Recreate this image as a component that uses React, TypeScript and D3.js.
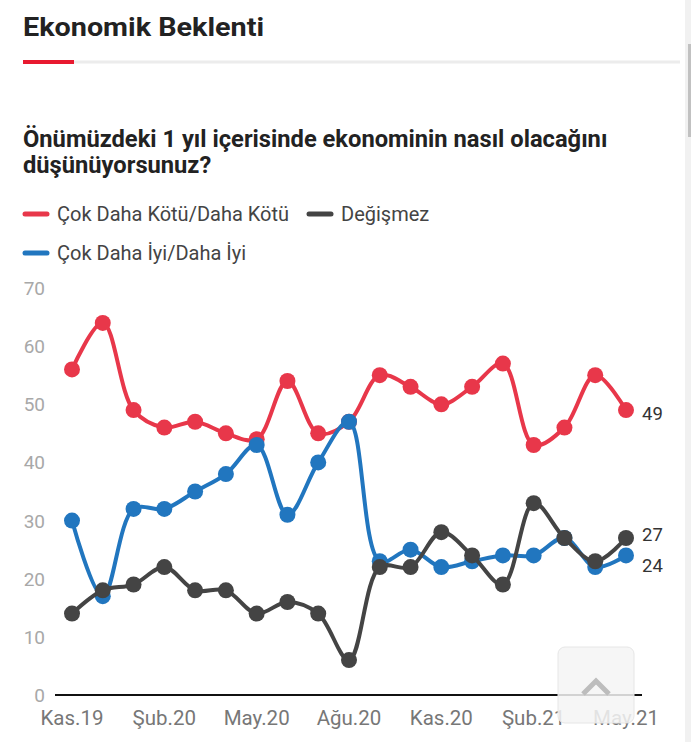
import React from 'react';
import * as d3 from 'd3';

// months, Kas.19 .. May.21
const months: string[] = [
  'Kas.19', 'Ara.19', 'Oca.20', 'Şub.20', 'Mar.20', 'Nis.20', 'May.20', 'Haz.20', 'Tem.20', 'Ağu.20',
  'Eyl.20', 'Eki.20', 'Kas.20', 'Ara.20', 'Oca.21', 'Şub.21', 'Mar.21', 'Nis.21', 'May.21',
];
const tickMonths: string[] = ['Kas.19', 'Şub.20', 'May.20', 'Ağu.20', 'Kas.20', 'Şub.21', 'May.21'];
const yTicks: number[] = [0, 10, 20, 30, 40, 50, 60, 70];

const kotu: number[] = [56, 64, 49, 46, 47, 45, 44, 54, 45, 47, 55, 53, 50, 53, 57, 43, 46, 55, 49];
const iyi: number[] = [30, 17, 32, 32, 35, 38, 43, 31, 40, 47, 23, 25, 22, 23, 24, 24, 27, 22, 24];
const degismez: number[] = [14, 18, 19, 22, 18, 18, 14, 16, 14, 6, 22, 22, 28, 24, 19, 33, 27, 23, 27];

const RED = '#e8374a';
const BLUE = '#2176bf';
const GRAY = '#444444';
const FONT = 'Roboto, "Noto Sans", sans-serif';

interface ISeries {
  name: string;
  color: string;
  values: number[];
  labelDy: number;
}

// draw order: red, blue, gray on top
const series: ISeries[] = [
  {name: 'Çok Daha Kötü/Daha Kötü', color: RED, values: kotu, labelDy: 10},
  {name: 'Çok Daha İyi/Daha İyi', color: BLUE, values: iyi, labelDy: 17},
  {name: 'Değişmez', color: GRAY, values: degismez, labelDy: 3},
];

const App = () => {
  const width = 691;
  const height = 742;

  const x = d3.scalePoint<string>().domain(months).range([72, 626]);
  const y = d3.scaleLinear().domain([0, 70]).range([695, 288]);

  const line = d3.line<number>()
    .x((d, i) => x(months[i]) as number)
    .y(d => y(d))
    .curve(d3.curveCatmullRom.alpha(0.5));

  return (
    <div style={{position: 'absolute', left: 0, top: 0}}>
      <svg width={width} height={height} style={{display: 'block', fontFamily: FONT}}>
        <rect width={width} height={height} fill="#fff"/>

        {/* header */}
        <text x={23} y={36} fontSize={26} fontWeight={700} fill="#222"
              textLength={241} lengthAdjust="spacingAndGlyphs">Ekonomik Beklenti</text>
        <line x1={74} x2={680} y1={62} y2={62} stroke="#ececec" strokeWidth={3}/>
        <line x1={23} x2={74} y1={62} y2={62} stroke="#e8192f" strokeWidth={4}/>

        {/* subtitle */}
        <text x={23} y={147} fontSize={23.7} fontWeight={700} fill="#222">
          Önümüzdeki 1 yıl içerisinde ekonominin nasıl olacağını
        </text>
        <text x={23} y={173} fontSize={23.7} fontWeight={700} fill="#222">düşünüyorsunuz?</text>

        {/* legend */}
        {[
          {s: series[0], lx: 23, ly: 214},
          {s: series[2], lx: 307, ly: 214},
          {s: series[1], lx: 23, ly: 253},
        ].map(({s, lx, ly}) => (
          <g key={s.name}>
            <line x1={lx + 2} x2={lx + 24} y1={ly} y2={ly} stroke={s.color} strokeWidth={5} strokeLinecap="round"/>
            <text x={lx + 34} y={ly + 7} fontSize={20} fill="#444">{s.name}</text>
          </g>
        ))}

        {/* y axis labels */}
        {yTicks.map(t => (
          <text key={t} x={45} y={y(t) + 7} fontSize={19} fill="#a8a8a8" textAnchor="end">{t}</text>
        ))}

        {/* x axis */}
        <line x1={55} x2={642} y1={y(0)} y2={y(0)} stroke="#111" strokeWidth={2}/>
        {tickMonths.map(m => (
          <text key={m} x={x(m)} y={725} fontSize={20.5} fill="#777" textAnchor="middle">{m}</text>
        ))}

        {/* series */}
        {series.map(s => (
          <g key={s.name}>
            <path d={line(s.values) || ''} fill="none" stroke={s.color} strokeWidth={4}
                  strokeLinejoin="round" strokeLinecap="round"/>
            {s.values.map((v, i) => (
              <circle key={i} cx={x(months[i])} cy={y(v)} r={8} fill={s.color}/>
            ))}
          </g>
        ))}

        {/* end labels */}
        {series.map(s => {
          const last = s.values.length - 1;
          return (
            <text key={s.name} x={642} y={y(s.values[last]) + s.labelDy} fontSize={18.5} fill="#333">
              {s.values[last]}
            </text>
          );
        })}

        {/* scroll-to-top button */}
        <rect x={558} y={647} width={76} height={76} rx={7} fill="rgba(245,245,245,0.85)" stroke="#e6e6e6"/>
        <polyline points="583,694 596,681 609,694" fill="none" stroke="#bdbdbd" strokeWidth={5}/>

        {/* scrollbar */}
        <rect x={685} y={0} width={6} height={height} fill="#f1f1f1"/>
        <rect x={688} y={44} width={3} height={93} fill="#c1c1c1"/>
      </svg>
    </div>
  );
};

export default App;
